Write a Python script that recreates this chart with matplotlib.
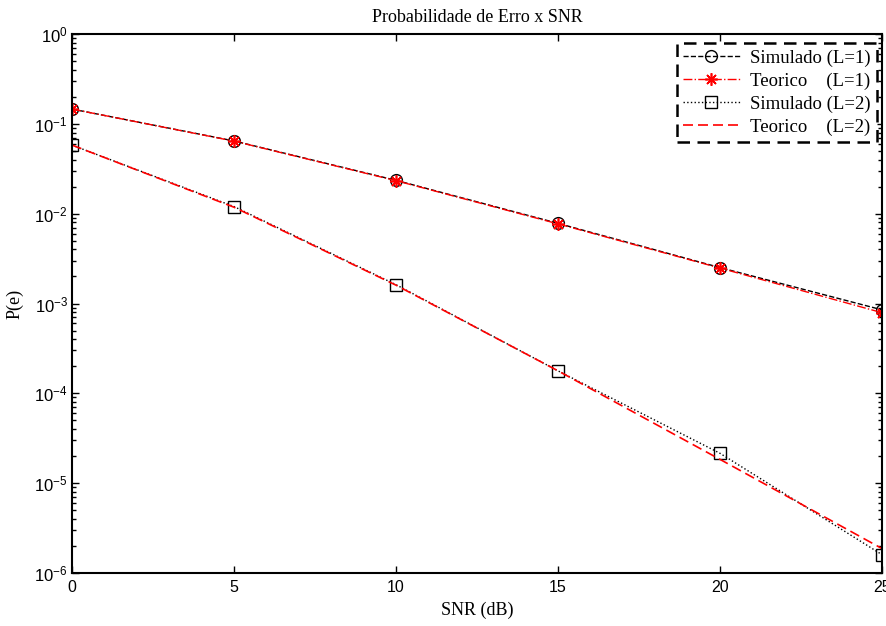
import matplotlib
matplotlib.use("Agg")
import matplotlib.pyplot as plt
from matplotlib.ticker import LogLocator, NullFormatter, FixedLocator

# data
snr_db = [0, 5, 10, 15, 20, 25]
sim_l1 = [0.146, 0.0645, 0.0235, 0.0078, 0.00251, 0.00085]
teo_l1 = [0.146, 0.0642, 0.0233, 0.0077, 0.00248, 0.00079]
sim_l2 = [0.058, 0.0120, 0.00162, 0.000178, 2.15e-5, 1.6e-6]
teo_l2 = [0.058, 0.0118, 0.00160, 0.000178, 1.84e-5, 1.87e-6]

legend_labels = ["Simulado (L=1)", "Teorico    (L=1)",
                 "Simulado (L=2)", "Teorico    (L=2)"]

plt.rcParams.update({
    "font.family": "Liberation Sans",
    "mathtext.fontset": "custom",
    "mathtext.rm": "Liberation Sans",
    "mathtext.it": "Liberation Sans",
    "font.size": 10,
})
SERIF = "Liberation Serif"

fig = plt.figure(figsize=(8.87, 6.26), dpi=100)
ax = fig.add_axes([72 / 887, 53 / 626, 810 / 887, 539 / 626])

ax.plot(snr_db, sim_l1, color="black", linestyle="--", linewidth=1.0,
        marker="o", markersize=8.5, markerfacecolor="none",
        markeredgecolor="black", label=legend_labels[0])
ax.plot(snr_db, teo_l1, color="red", linestyle="-.", linewidth=1.0,
        marker=(8, 2, 0), markersize=9, markeredgewidth=1.2,
        markeredgecolor="red", label=legend_labels[1])
ax.plot(snr_db, sim_l2, color="black", linestyle=":", linewidth=1.0,
        marker="s", markersize=8.5, markerfacecolor="none",
        markeredgecolor="black", label=legend_labels[2])
ax.plot(snr_db, teo_l2, color="red", linestyle=(0, (6, 3)), linewidth=1.2,
        label=legend_labels[3])

ax.set_yscale("log")
ax.set_xlim(0, 25)
ax.set_ylim(1e-6, 1e0)
ax.xaxis.set_major_locator(FixedLocator(snr_db))
ax.yaxis.set_major_locator(LogLocator(base=10, numticks=10))
ax.yaxis.set_minor_locator(LogLocator(base=10, subs=range(2, 10), numticks=20))
ax.yaxis.set_minor_formatter(NullFormatter())

ax.tick_params(which="both", direction="in", top=True, right=True,
               colors="black")
ax.tick_params(axis="x", labelsize=11.5, pad=5)
ax.tick_params(axis="y", labelsize=12, pad=3)
ax.tick_params(which="major", length=5, width=1.0)
ax.tick_params(which="minor", length=3, width=1.0)
for sp in ax.spines.values():
    sp.set_linewidth(1.5)

ax.set_title("Probabilidade de Erro x SNR", fontsize=13, family=SERIF, pad=9)
ax.set_xlabel("SNR (dB)", fontsize=13, family=SERIF, labelpad=5)
ax.set_ylabel("P(e)", fontsize=13, family=SERIF, labelpad=8)

leg = ax.legend(loc="upper right", bbox_to_anchor=(0.9985, 0.99),
                prop={"family": SERIF, "size": 13.5}, fancybox=False,
                framealpha=1, edgecolor="black", handlelength=3.0,
                borderpad=0.35, labelspacing=0.3, handletextpad=0.55,
                borderaxespad=0.2)
leg.get_frame().set_linewidth(1.8)
leg.get_frame().set_linestyle((0, (5, 3)))

fig.savefig("out.png", dpi=100, facecolor="white")
